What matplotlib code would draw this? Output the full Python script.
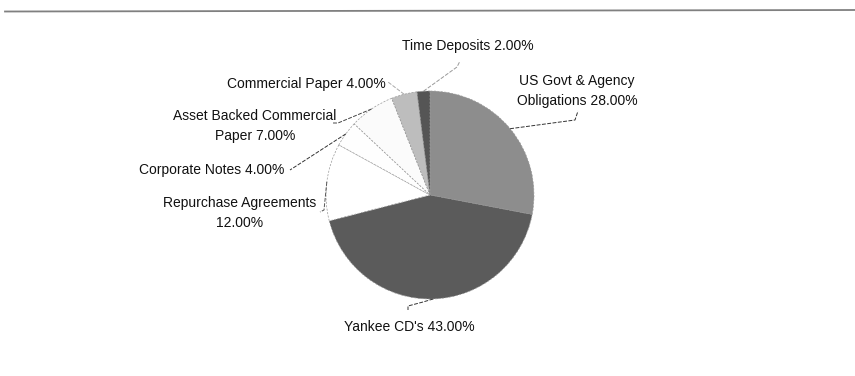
import numpy as np
import matplotlib
matplotlib.use("Agg")
import matplotlib.pyplot as plt

plt.rcParams["font.family"] = ["Liberation Sans", "DejaVu Sans"]

# portfolio composition, clockwise from 12 o'clock
sectors = [
    "US Govt & Agency\nObligations",
    "Yankee CD's",
    "Repurchase Agreements\n",
    "Corporate Notes",
    "Asset Backed Commercial\nPaper",
    "Commercial Paper",
    "Time Deposits",
]
shares = [28.0, 43.0, 12.0, 4.0, 7.0, 4.0, 2.0]
slice_colors = ["#8d8d8d", "#5b5b5b", "#ffffff", "#fefefe", "#fbfbfb", "#bdbdbd", "#555555"]

# label placement (figure pixels, y up) and the elbow points of each leader
label_pos = [(577, 285), (409, 49), (240, 163), (212, 206), (255, 250), (306, 292), (468, 330)]
leader_pts = [
    [(575, 256), (578, 265)],
    [(423, 74), (408, 70), (408, 66)],
    [(324, 166), (320, 164)],
    [(290, 206)],
    [(338, 253), (333, 253)],
    [(388, 294)],
    [(457, 309), (460, 315)],
]
leader_colors = ["#333333", "#333333", "#555555", "#333333", "#444444", "#aaaaaa", "#999999"]

CX, CY, R = 430, 181, 104

fig = plt.figure(figsize=(8.55, 3.76), dpi=100)
ax = fig.add_axes([0, 0, 1, 1])

wedges, _ = ax.pie(
    shares,
    colors=slice_colors,
    startangle=90,
    counterclock=False,
    center=(CX, CY),
    radius=R,
    wedgeprops=dict(edgecolor="#999999", linewidth=0.5, linestyle=(0, (3, 2))),
)
ax.set_xlim(0, 855)
ax.set_ylim(0, 376)
ax.set_aspect("equal")
ax.axis("off")

for i, w in enumerate(wedges):
    mid = np.deg2rad((w.theta1 + w.theta2) / 2)
    start = (CX + R * np.cos(mid), CY + R * np.sin(mid))
    pts = [start] + leader_pts[i]
    xs, ys = zip(*pts)
    ax.plot(xs, ys, color=leader_colors[i], lw=0.7, ls=(0, (4, 1.5)))
    if sectors[i].endswith("\n"):
        text = f"{sectors[i]}{shares[i]:.2f}%"
    else:
        text = f"{sectors[i]} {shares[i]:.2f}%"
    ax.text(label_pos[i][0], label_pos[i][1], text, ha="center", va="center",
            fontsize=10, color="#111111", linespacing=1.5)

# rule across the top of the page
ax.plot([5, 855], [364.5, 366], color="#808080", lw=1.3)

fig.savefig("out.png", dpi=100)
